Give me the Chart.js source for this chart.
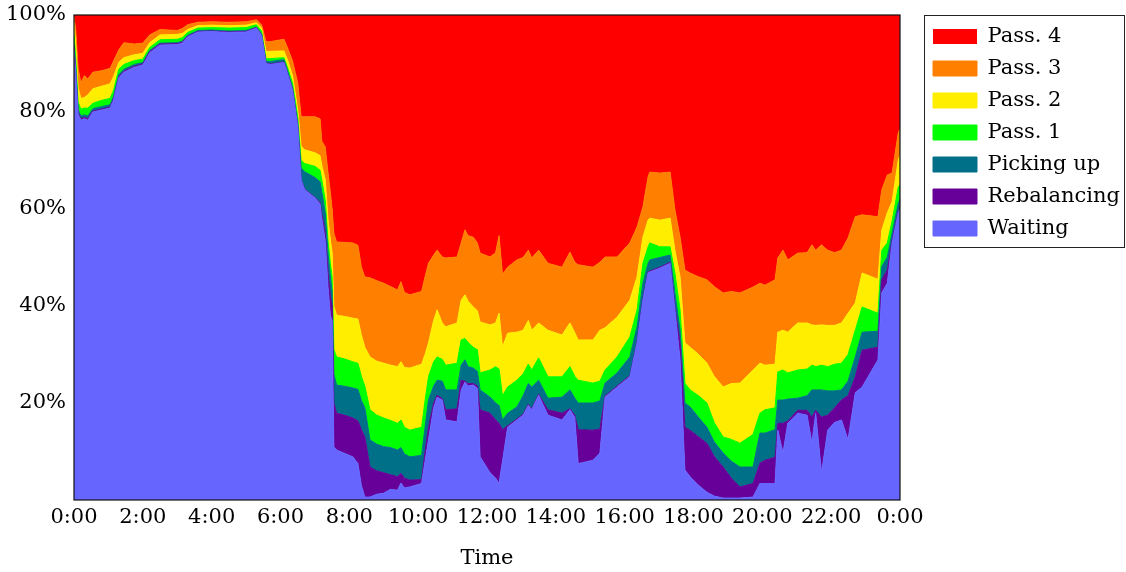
<!DOCTYPE html>
<html><head><meta charset="utf-8">
<script src="https://cdn.jsdelivr.net/npm/chart.js@4/dist/chart.umd.min.js"></script>
<style>html,body{margin:0;padding:0;background:#fff;}</style>
</head><body>
<canvas id="c" width="1126" height="572"></canvas>
<script>
// Time of day in hours
const hours = [0,0.05,0.12,0.2,0.3,0.4,0.55,0.8,1.05,1.15,1.3,1.45,1.75,2.0,2.2,2.5,3.0,3.15,3.3,3.6,4.0,4.5,5.0,5.3,5.45,5.58,5.7,6.1,6.2,6.35,6.5,6.6,6.7,7.0,7.15,7.2,7.3,7.38,7.45,7.5,7.55,7.63,7.9,8.1,8.25,8.35,8.45,8.6,8.8,9.0,9.2,9.4,9.5,9.6,9.76,10.1,10.2,10.3,10.45,10.55,10.7,10.8,11.13,11.25,11.36,11.45,11.6,11.72,11.8,12.09,12.25,12.35,12.45,12.6,12.87,13.05,13.2,13.3,13.5,13.77,14.18,14.41,14.55,14.65,15.08,15.28,15.43,15.78,16.15,16.36,16.53,16.68,16.73,17.02,17.32,17.46,17.61,17.75,17.9,18.15,18.39,18.6,18.86,19.1,19.35,19.73,19.93,20.08,20.37,20.45,20.6,20.74,21.03,21.3,21.44,21.55,21.72,21.9,22.1,22.3,22.49,22.7,22.9,23.36,23.47,23.63,23.77,23.95,24.0];

// Cumulative upper edge (%) of each state band
const waitingTop = [93,88,79.5,78.3,78.6,78.3,80,80.4,80.8,82.5,87,88.2,89.2,89.7,92.2,93.8,93.9,94.2,95.5,96.5,96.6,96.4,96.5,97.3,95.8,90,89.8,90.2,88,84.5,77,66,64,62.3,61,58,53.5,44,38,37,11,10.3,9.5,8.9,7.5,3,0.6,0.6,1.2,1.4,2.2,2,3.5,2.5,2.7,3.4,8,12.4,19,21.2,20.6,16.5,16.1,22.7,24.3,23.5,23.7,23,8.9,5.6,4.5,3.4,8,15,16.5,17.5,19.5,18.6,21.6,17.5,16.5,18.6,17,7.5,8.2,9.7,21.2,23.3,25.4,32.4,41.2,46.8,47,47.8,48.8,39.2,28.9,6.2,4.8,3,1.6,0.8,0.4,0.4,0.4,0.6,3.4,3.4,3.4,14.4,9.7,15.8,17.9,17.5,11.7,17.9,5.6,14.4,16,16.5,12.4,22.1,23.3,28.9,42.7,44.7,53,59.2,60];
const rebalancingTop = [93.3,88.3,79.8,78.6,78.9,78.6,80.2,80.6,81,82.7,87.2,88.4,89.4,89.9,92.4,94,94.1,94.4,95.6,96.6,96.7,96.5,96.6,97.4,95.9,90.1,89.9,90.3,88.1,84.6,77.1,66.1,64.1,62.4,61.3,59,55,47,42,40,20,17.9,17.4,16.9,16.3,14.5,13,6.8,6,5.6,5.2,4.8,5.5,4.5,4.1,4.2,10,15,20,21.6,20.9,18.6,18.8,24.7,24.5,24,24,23.5,18.6,17.9,16.5,15.8,14.5,15.3,16.7,17.7,19.7,18.8,21.8,18.6,17.9,18.8,17.5,14.5,14.4,14.6,21.4,23.5,25.6,32.6,41.4,47,47.2,48,49,39.8,32.3,15,14.4,13,11.7,9,6.8,4.5,2.7,3.4,7.6,8.2,8.8,15.8,15.8,16.3,18.5,18.5,17.1,18.5,17.1,17.5,19,20.6,21.5,25.4,30.9,31.5,45.4,47.4,53.5,59.5,60.3];
const pickingUpTop = [94,89,80.5,79.2,79.4,79.2,80.7,81.1,81.5,83.2,87.7,88.8,89.8,90.2,92.7,94.2,94.3,94.6,95.8,96.8,96.9,96.7,96.8,97.5,96.1,90.4,90.4,90.8,88.6,85,77.8,68.5,67.7,66.5,65.6,63.5,59.2,51,46,43,26,23.7,23.4,23.1,22.8,20.5,19,12.4,11.5,11,10.8,10.3,10.8,9.5,8.9,9.2,15,20.6,23.5,24.7,24.5,22.7,22.7,27.8,28.9,27.5,27.2,26.5,22.7,21.2,20,19.5,16.5,17.9,19.2,21.5,24,23.3,24.7,21,21.2,22.7,21,20,20,20.4,24.1,26.2,29.5,35.7,44.7,48.8,49.5,50,50.5,42.7,35,20,19.2,17,15,12,9.7,8,6.8,6.8,13.8,13.8,14.5,20.6,20.6,20.8,21,21.5,22.7,22.7,22.7,22.5,22.5,22.7,24.5,29.5,34.6,34.8,48.1,50.1,55,61.2,62];
const pass1Top = [96,91,82,80.6,80.8,80.8,81.8,82.4,82.8,84.5,88.8,89.8,90.6,90.9,93.3,94.9,95,95.3,96.4,97.3,97.4,97.3,97.4,98,96.7,91,91,91.2,89.3,86,79,70,69.4,68.8,68,66,61.9,53.5,48.8,46,31,29.5,29,28.5,28.2,25.5,23.5,18.6,17.5,16.9,16.4,15.8,16.5,15,14.4,15,20.5,25.4,28.5,29.5,29,27.8,28.2,33,33.3,32.5,31.5,31,26.2,26.8,27.5,27,21.5,23.3,24.7,26,28,26.8,29.3,25.4,25.4,27.5,25.5,24.7,24.1,24.5,26.8,29.5,33.6,39.2,48.8,52.2,53,52.2,52.2,46.8,39.2,24.1,22.7,21.5,20,16,13,12.5,11.7,13.5,17.9,18.6,19,26.4,26.8,26.2,26.8,27,27.8,27.5,27.8,27.5,28,28.2,30,35,39.8,38.5,51.5,53,57.5,64.5,65];
const pass2Top = [98.5,94,85,82.8,83,83.5,84.8,85.3,85.8,87.3,90.2,91.2,91.8,92.1,94.3,95.9,96,96.2,97,97.8,97.9,97.8,97.9,98.4,97.3,92.5,92.5,92.6,90.8,87.5,80.6,73,72.2,71.6,71,69,66,58,53.6,51,40,38.1,37.8,37.5,37.3,34,31.5,29.5,28.6,28.2,27.8,27.5,28.5,27.3,27.2,28,30,32.4,37,39.2,36.5,35.7,36.5,41.2,42.3,41,39.8,39,36.7,36.1,36.5,38.5,31.5,34.4,34.6,35,37,35,36.5,35,34,36.5,34.5,33,33,35,35.5,37.7,41.2,46,54.2,57.7,58.1,57.7,58.1,51.5,46,32.4,31.5,30,28.2,25.5,23.3,24,24.1,26.8,28.2,27.8,28,34.6,35,34.6,36.5,36.5,36.1,36,36.1,36,36,36.5,38.5,40.6,46.8,45.5,55.6,59.2,61.5,70.1,71];
const pass3Top = [99.6,97,89,86,87.5,86.8,88.2,88.5,89,90.5,92.8,94.3,94,94.2,95.9,97,96.8,97.2,98,98.5,98.6,98.5,98.6,99,98,94.5,94.5,95,93.3,90.5,86,79,79,79,78.6,74,72.8,67.5,63.3,60,55,53.2,53.1,53,52.5,48,46,45.8,45.2,44.7,44,43.3,45,42.8,42.3,43,46,48.8,50.5,51.5,50.1,49.9,50.1,53,55.7,54.5,54.2,53,50.9,50.1,51,54.5,46.5,48,49.5,50,51.5,49.9,51.5,48.8,48,51.1,49,48.5,48,49,50.1,50.1,53,56.3,60.4,66.6,67.6,67.4,67.6,59.8,54.2,47.4,46.8,46,45.4,44,42.7,43,42.7,43.9,44.7,44.3,45.4,49.9,51.5,49.5,50.9,51,52.6,51.5,52.6,51.5,51,51.5,54,58.4,58.8,58.4,63.9,67,67.4,75.7,76.5];

const seriesNames = ['Waiting','Rebalancing','Picking up','Pass. 1','Pass. 2','Pass. 3','Pass. 4'];
const seriesColors = ['#6666ff','#660099','#007088','#00ff00','#ffee00','#ff8000','#ff0000'];
const tickHours = [0,2,4,6,8,10,12,14,16,18,20,22,24];

const edges = [waitingTop, rebalancingTop, pickingUpTop, pass1Top, pass2Top, pass3Top, pass3Top];
const FONT = 'DejaVu Serif';

const datasets = seriesNames.map((name, k) => ({
  label: name,
  data: hours.map((h, i) => ({x: h, y: edges[k][i]})),
  backgroundColor: seriesColors[k],
  borderColor: seriesColors[k],
  borderWidth: k === 6 ? 0 : 1,
  pointRadius: 0,
  tension: 0,
  fill: k === 0 ? 'origin' : (k === 6 ? 'end' : '-1')
}));

const framePlugin = {
  id: 'framePlugin',
  beforeLayout(chart) {
    const lg = chart.legend;
    if (lg && !lg._patched) {
      const orig = lg.fit;
      lg.fit = function() { orig.call(this); this.width = 226; };
      lg._patched = true;
    }
  },
  afterLayout(chart) {
    const lg = chart.legend;
    lg.left = 922; lg.right = 1124; lg.top = 15; lg.bottom = 320;
  },
  afterDraw(chart) {
    const {ctx, chartArea: a} = chart;
    ctx.save();
    ctx.strokeStyle = '#111';
    ctx.lineWidth = 1.2;
    ctx.strokeRect(a.left, a.top, a.right - a.left, a.bottom - a.top);
    ctx.lineWidth = 1;
    ctx.strokeStyle = '#222';
    ctx.strokeRect(924.5, 15.5, 200, 232);
    ctx.restore();
  }
};

new Chart(document.getElementById('c'), {
  type: 'line',
  data: { datasets },
  options: {
    responsive: false,
    animation: false,
    devicePixelRatio: 1,
    layout: { padding: { top: 15, right: 0, left: 0, bottom: 0 } },
    plugins: {
      tooltip: { enabled: false },
      legend: {
        position: 'right',
        align: 'start',
        reverse: true,
        labels: {
          boxWidth: 44, boxHeight: 15, padding: 11,
          color: '#000',
          font: { family: FONT, size: 21 }
        }
      }
    },
    scales: {
      x: {
        type: 'linear', min: 0, max: 24,
        afterBuildTicks: s => { s.ticks = tickHours.map(v => ({value: v})); },
        ticks: {
          autoSkip: false, maxRotation: 0, padding: 5, color: '#000',
          font: { family: FONT, size: 21 },
          callback: v => (v % 24) + ':00'
        },
        grid: { display: false, drawTicks: false },
        border: { display: false },
        title: { display: true, text: 'Time', color: '#000', font: { family: FONT, size: 21 }, padding: { top: 0, bottom: 1 } },
        afterFit: s => { s.height = 72; s.paddingLeft = 0; s.paddingRight = 0; }
      },
      y: {
        min: 0, max: 100,
        ticks: {
          stepSize: 20, padding: 8, color: '#000',
          font: { family: FONT, size: 21 },
          callback: v => v === 0 ? '' : v + '%'
        },
        grid: { display: false, drawTicks: false },
        border: { display: false },
        afterFit: s => { s.width = 74; s.paddingTop = 0; s.paddingBottom = 0; }
      }
    }
  },
  plugins: [framePlugin]
});
</script>
</body></html>
